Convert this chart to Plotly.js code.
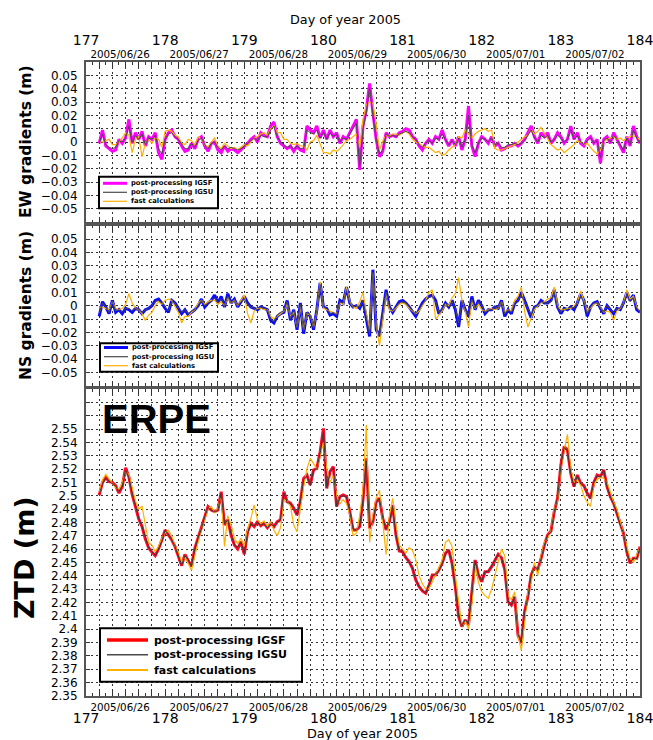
<!DOCTYPE html>
<html>
<head>
<meta charset="utf-8">
<script src="https://cdn.plot.ly/plotly-3.0.1.min.js"></script>
<style>html,body{margin:0;padding:0;background:#fff;}#chart{width:653px;height:740px;}</style>
</head>
<body>
<div id="chart"></div>
<script>
// ---------------- DATA (hourly samples, day-of-year 2005) ----------------
const START_DAY = 177 + 4/24;     // first sample
const STEP_DAY = 1/24;            // hourly sampling

const EW_IGSF = [-0.001,0.009,-0.003,-0.005,-0.007,-0.006,0.002,-0.001,0.003,0.017,
-0.001,0.007,0.002,0.008,-0.003,0.004,0.002,0.007,-0.008,-0.013,
0.002,0.007,0.009,0.004,0.002,-0.003,-0.007,-0.006,-0.001,-0.005,
0.002,0.004,-0.003,-0.007,-0.001,0.000,-0.006,-0.008,-0.003,-0.007,
-0.005,-0.006,-0.008,-0.006,-0.003,-0.001,0.002,0.004,0.000,0.007,
0.005,0.004,0.012,0.015,0.004,-0.001,-0.003,-0.005,-0.003,-0.007,
-0.003,-0.006,-0.007,0.012,0.009,0.007,0.012,0.003,0.009,0.002,
0.009,0.004,0.007,-0.001,0.004,0.002,0.007,0.012,0.017,-0.021,
0.012,0.024,0.044,0.022,0.002,-0.011,-0.007,0.007,0.004,0.005,
0.004,0.007,0.008,0.010,0.009,0.004,0.002,-0.003,-0.006,-0.001,
0.002,-0.001,0.004,0.002,0.009,0.002,-0.003,0.002,-0.003,0.004,
-0.006,0.002,0.027,-0.003,-0.011,-0.001,0.004,0.002,-0.001,0.004,
-0.003,-0.001,-0.006,-0.005,-0.003,-0.003,-0.001,-0.003,-0.001,0.002,
0.007,0.012,0.004,-0.001,0.007,0.004,0.007,-0.001,0.002,0.007,
0.004,-0.001,0.002,0.012,0.002,0.007,-0.001,-0.003,0.002,0.004,
-0.001,0.002,-0.016,0.002,0.004,-0.001,0.007,0.002,-0.003,-0.008,
0.004,-0.003,0.012,0.004,-0.001];

const EW_IGSU = [-0.001,0.006,-0.002,-0.004,-0.005,-0.004,0.001,0.000,0.003,0.012,
0.000,0.005,0.002,0.006,-0.002,0.003,0.002,0.005,-0.005,-0.009,
0.002,0.006,0.007,0.004,0.002,-0.002,-0.005,-0.005,-0.001,-0.004,
0.001,0.003,-0.002,-0.005,-0.001,0.000,-0.004,-0.006,-0.003,-0.005,
-0.004,-0.005,-0.006,-0.005,-0.003,-0.001,0.001,0.003,0.001,0.005,
0.004,0.004,0.009,0.012,0.004,0.000,-0.002,-0.004,-0.003,-0.005,
-0.003,-0.005,-0.005,0.009,0.007,0.006,0.009,0.003,0.007,0.002,
0.007,0.004,0.006,0.000,0.003,0.002,0.006,0.010,0.014,-0.019,
0.010,0.022,0.041,0.020,0.002,-0.009,-0.006,0.006,0.004,0.005,
0.004,0.006,0.007,0.008,0.007,0.004,0.002,-0.002,-0.004,-0.001,
0.001,-0.001,0.003,0.002,0.006,0.002,-0.002,0.001,-0.002,0.003,
-0.004,0.002,0.020,-0.002,-0.008,-0.001,0.003,0.002,0.000,0.003,
-0.002,-0.001,-0.004,-0.004,-0.002,-0.002,-0.001,-0.002,-0.001,0.001,
0.005,0.009,0.003,0.000,0.005,0.003,0.005,0.000,0.002,0.005,
0.003,0.000,0.002,0.009,0.002,0.005,0.000,-0.002,0.001,0.003,
-0.001,0.001,-0.012,0.001,0.003,0.000,0.005,0.002,-0.002,-0.006,
0.003,-0.002,0.009,0.003,-0.001];

const EW_FAST = [0.000,0.000,0.001,0.002,-0.002,-0.002,0.000,0.003,0.007,0.005,
-0.008,0.002,0.004,-0.011,-0.001,0.002,-0.001,0.003,0.002,-0.004,
0.008,0.009,0.008,0.005,0.004,-0.001,-0.002,0.002,0.001,-0.002,
0.004,0.002,-0.002,-0.004,0.000,0.003,-0.003,-0.005,-0.001,-0.003,
-0.005,-0.004,-0.006,-0.004,-0.002,-0.003,0.000,0.003,0.004,0.006,
0.007,0.005,0.010,0.012,0.007,0.007,0.002,0.002,-0.001,-0.002,
-0.001,-0.003,-0.003,-0.006,0.000,0.001,0.005,-0.002,-0.008,-0.008,
-0.009,-0.006,-0.007,-0.005,-0.002,0.001,0.002,0.004,0.006,-0.004,
0.017,0.028,0.030,0.029,0.014,-0.006,0.001,0.005,0.004,0.006,
0.006,0.005,0.007,0.008,0.006,0.002,0.000,-0.001,-0.003,-0.004,
-0.004,-0.006,-0.008,-0.007,-0.010,-0.009,-0.006,-0.004,-0.002,0.004,
0.003,0.009,0.006,0.003,0.006,0.008,0.009,0.010,0.008,0.009,
-0.005,-0.006,-0.006,-0.005,-0.004,-0.003,-0.002,0.000,0.002,0.004,
0.005,0.009,0.006,0.008,0.011,0.007,0.002,-0.002,-0.004,-0.006,
-0.005,-0.008,-0.006,-0.004,-0.002,0.001,0.000,-0.002,-0.001,-0.004,
-0.007,-0.009,-0.006,0.000,0.002,0.003,0.004,0.002,0.003,0.001,
0.003,0.004,0.005,0.003,0.002];

const NS_IGSF = [-0.008,0.003,-0.001,-0.006,0.004,-0.005,-0.003,-0.006,-0.002,-0.003,
-0.005,-0.002,-0.003,-0.006,-0.003,-0.002,0.000,0.004,0.005,0.002,
-0.002,-0.005,0.004,0.002,-0.002,-0.006,-0.003,-0.007,-0.005,-0.003,
0.000,0.005,-0.001,0.002,0.004,0.008,0.002,0.007,-0.001,0.009,
0.002,0.005,-0.001,0.003,0.007,0.002,-0.001,-0.002,-0.003,-0.001,
-0.002,-0.003,-0.011,-0.013,-0.008,-0.006,-0.005,0.004,-0.011,-0.003,
-0.018,0.002,-0.021,-0.005,-0.008,-0.018,-0.003,0.017,-0.001,-0.002,
-0.007,-0.006,-0.008,0.004,0.002,0.014,0.002,-0.001,0.000,-0.002,
0.004,-0.011,-0.023,0.027,-0.018,-0.023,-0.006,0.012,-0.001,-0.005,
-0.001,0.003,0.004,0.002,-0.001,-0.005,-0.008,-0.003,0.002,0.005,
0.007,0.008,0.004,-0.006,-0.003,0.002,-0.001,0.004,-0.003,-0.016,
0.004,-0.003,-0.008,0.007,-0.003,0.004,0.000,-0.006,-0.003,-0.003,
-0.001,-0.002,0.004,-0.008,-0.003,-0.006,0.002,0.004,0.010,0.004,
-0.003,-0.009,-0.001,0.000,0.004,0.002,0.002,0.004,0.012,-0.001,
-0.006,-0.002,-0.003,-0.001,-0.003,0.002,0.009,0.004,-0.008,-0.001,
0.002,0.003,-0.002,-0.006,0.000,-0.003,-0.006,-0.002,-0.003,0.002,
0.010,0.004,0.008,-0.003,-0.005];

const NS_IGSU = [-0.006,0.002,-0.001,-0.005,0.003,-0.004,-0.003,-0.005,-0.002,-0.002,
-0.004,-0.002,-0.003,-0.005,-0.003,-0.002,0.000,0.003,0.004,0.002,
-0.001,-0.004,0.003,0.002,-0.002,-0.005,-0.003,-0.006,-0.004,-0.003,
0.000,0.004,0.000,0.002,0.003,0.006,0.002,0.005,0.000,0.007,
0.002,0.004,0.000,0.003,0.005,0.001,-0.001,-0.002,-0.003,-0.001,
-0.002,-0.003,-0.010,-0.012,-0.007,-0.005,-0.004,0.003,-0.010,-0.003,
-0.016,0.001,-0.019,-0.005,-0.007,-0.016,-0.003,0.016,-0.001,-0.002,
-0.006,-0.005,-0.007,0.003,0.002,0.012,0.002,-0.001,0.000,-0.001,
0.004,-0.010,-0.021,0.025,-0.017,-0.022,-0.006,0.010,-0.001,-0.004,
-0.001,0.002,0.003,0.002,-0.001,-0.004,-0.006,-0.003,0.001,0.004,
0.006,0.007,0.003,-0.005,-0.003,0.002,-0.001,0.003,-0.002,-0.013,
0.003,-0.003,-0.007,0.005,-0.002,0.003,0.000,-0.005,-0.003,-0.003,
-0.001,-0.002,0.003,-0.006,-0.003,-0.005,0.002,0.004,0.008,0.003,
-0.003,-0.007,-0.001,0.000,0.003,0.002,0.002,0.003,0.010,-0.001,
-0.005,-0.002,-0.003,-0.001,-0.002,0.002,0.007,0.003,-0.006,-0.001,
0.002,0.002,-0.002,-0.005,0.000,-0.003,-0.005,-0.002,-0.002,0.002,
0.008,0.003,0.006,-0.002,-0.004];

const NS_FAST = [-0.001,-0.001,-0.002,-0.003,0.003,-0.002,-0.003,-0.002,0.001,0.009,
0.002,-0.002,-0.003,-0.006,-0.011,-0.007,-0.005,0.000,0.003,0.001,
0.004,0.005,0.004,0.000,-0.005,-0.013,-0.008,-0.008,-0.005,-0.003,
0.002,0.004,0.001,0.003,0.004,0.004,0.001,0.003,0.000,0.006,
0.002,0.004,0.000,0.004,0.008,-0.006,-0.013,-0.004,-0.002,-0.002,
-0.003,-0.003,-0.008,-0.010,-0.008,-0.006,-0.004,0.001,-0.008,-0.005,
-0.016,-0.001,-0.018,-0.006,-0.007,-0.016,-0.004,0.018,-0.002,-0.003,
-0.004,-0.005,-0.006,0.002,0.001,0.014,0.003,-0.001,-0.002,0.003,
0.010,-0.006,-0.018,0.024,-0.015,-0.030,-0.012,0.009,-0.003,-0.004,
-0.002,0.001,0.002,0.001,-0.002,-0.004,-0.006,-0.004,0.000,0.004,
0.010,0.012,-0.010,-0.007,-0.004,0.001,0.000,0.006,0.009,0.021,
0.004,-0.004,-0.016,0.003,-0.002,0.001,-0.003,-0.004,-0.003,-0.002,
-0.003,-0.002,0.003,-0.005,-0.003,-0.004,0.004,0.007,0.014,-0.004,
-0.016,-0.010,-0.003,0.000,0.002,0.003,0.005,0.006,0.014,0.000,
-0.003,-0.003,-0.002,-0.002,0.000,0.002,0.011,0.004,-0.004,-0.002,
0.001,0.002,-0.001,-0.005,-0.004,-0.005,-0.011,-0.004,-0.002,0.002,
0.012,0.005,0.007,-0.001,-0.004];

const ZTD_IGSF = [2.5005,2.510,2.5137,2.5105,2.510,2.5075,2.502,2.5067,2.521,2.5143,
2.501,2.4918,2.4825,2.4768,2.4675,2.461,2.4575,2.455,2.460,2.4668,
2.4743,2.4705,2.4668,2.4618,2.455,2.4475,2.456,2.4518,2.4468,2.4605,
2.4685,2.4755,2.4843,2.4918,2.4893,2.488,2.4893,2.503,2.478,2.482,
2.4705,2.463,2.460,2.4655,2.456,2.473,2.4793,2.4768,2.4805,2.4775,
2.4793,2.476,2.4793,2.4768,2.4805,2.4818,2.503,2.4955,2.4943,2.4905,
2.4855,2.4955,2.513,2.5155,2.508,2.5193,2.5205,2.533,2.5505,2.5055,
2.518,2.5218,2.4918,2.4993,2.5005,2.4993,2.488,2.4743,2.4743,2.4768,
2.497,2.528,2.4755,2.4805,2.4955,2.498,2.483,2.4743,2.4805,2.493,
2.4705,2.4585,2.458,2.4535,2.4505,2.4455,2.4368,2.4318,2.4285,2.4268,
2.4325,2.4405,2.4405,2.4443,2.4493,2.4568,2.4593,2.4493,2.4318,2.4093,
2.4018,2.4068,2.403,2.4255,2.4518,2.4405,2.4355,2.443,2.443,2.4468,
2.4518,2.456,2.4535,2.4443,2.4205,2.418,2.4243,2.3955,2.3893,2.413,
2.4243,2.4405,2.4468,2.4443,2.453,2.463,2.4705,2.4735,2.488,2.498,
2.523,2.5368,2.5343,2.5168,2.5068,2.5155,2.5093,2.5075,2.5018,2.498,
2.510,2.5155,2.5143,2.5193,2.5068,2.4993,2.4943,2.4868,2.478,2.4718,
2.458,2.4493,2.453,2.453,2.4618];

const ZTD_IGSU = [2.501,2.509,2.513,2.511,2.509,2.507,2.503,2.507,2.519,2.514,
2.502,2.492,2.483,2.477,2.468,2.461,2.458,2.455,2.460,2.466,
2.474,2.471,2.467,2.462,2.455,2.448,2.455,2.452,2.447,2.460,
2.468,2.475,2.484,2.491,2.489,2.488,2.489,2.502,2.479,2.482,
2.471,2.463,2.461,2.465,2.457,2.472,2.479,2.477,2.480,2.478,
2.479,2.476,2.479,2.477,2.480,2.482,2.502,2.495,2.494,2.491,
2.486,2.495,2.512,2.515,2.508,2.519,2.520,2.532,2.548,2.506,
2.518,2.521,2.492,2.499,2.500,2.499,2.488,2.475,2.474,2.477,
2.497,2.526,2.476,2.481,2.495,2.498,2.483,2.475,2.480,2.492,
2.471,2.459,2.458,2.454,2.451,2.446,2.437,2.432,2.429,2.427,
2.433,2.440,2.441,2.444,2.449,2.456,2.459,2.450,2.432,2.410,
2.402,2.407,2.404,2.425,2.451,2.441,2.436,2.443,2.443,2.447,
2.451,2.456,2.453,2.445,2.421,2.418,2.424,2.396,2.390,2.412,
2.424,2.440,2.447,2.444,2.453,2.463,2.470,2.473,2.488,2.498,
2.522,2.536,2.534,2.517,2.507,2.515,2.509,2.507,2.502,2.498,
2.510,2.515,2.514,2.519,2.507,2.499,2.494,2.487,2.478,2.472,
2.458,2.450,2.453,2.453,2.461];

const ZTD_FAST = [2.502,2.512,2.516,2.512,2.509,2.506,2.505,2.510,2.518,2.516,
2.507,2.496,2.490,2.492,2.478,2.465,2.463,2.458,2.462,2.468,
2.472,2.474,2.470,2.462,2.458,2.450,2.454,2.449,2.444,2.455,
2.466,2.475,2.482,2.490,2.492,2.487,2.491,2.500,2.462,2.485,
2.478,2.468,2.464,2.468,2.462,2.475,2.483,2.493,2.482,2.479,
2.481,2.477,2.480,2.474,2.470,2.476,2.497,2.496,2.492,2.478,
2.473,2.490,2.507,2.520,2.528,2.524,2.520,2.530,2.540,2.520,
2.510,2.515,2.500,2.494,2.497,2.494,2.486,2.470,2.472,2.485,
2.505,2.553,2.465,2.485,2.498,2.504,2.478,2.456,2.485,2.498,
2.478,2.463,2.460,2.457,2.461,2.459,2.452,2.440,2.434,2.430,
2.430,2.435,2.440,2.446,2.452,2.465,2.467,2.462,2.440,2.420,
2.402,2.406,2.400,2.418,2.448,2.435,2.428,2.425,2.423,2.430,
2.440,2.452,2.460,2.455,2.425,2.422,2.428,2.395,2.384,2.405,
2.428,2.435,2.450,2.440,2.455,2.465,2.468,2.474,2.490,2.496,
2.520,2.534,2.546,2.520,2.510,2.512,2.508,2.500,2.495,2.492,
2.508,2.512,2.514,2.513,2.510,2.503,2.495,2.490,2.481,2.473,
2.462,2.453,2.450,2.455,2.461];

// tick labels
const DAY_TICKS = [177,178,179,180,181,182,183,184];
const DATE_DAYS = [177,178,179,180,181,182,183];
const DATE_LABELS = ['2005/06/26','2005/06/27','2005/06/28','2005/06/29','2005/06/30','2005/07/01','2005/07/02'];
const GRAD_TICKS = [-0.05,-0.04,-0.03,-0.02,-0.01,0,0.01,0.02,0.03,0.04,0.05];
const GRAD_LABELS = ['\u22120.05','\u22120.04','\u22120.03','\u22120.02','\u22120.01','0','0.01','0.02','0.03','0.04','0.05'];
const ZTD_TICKS = [2.35,2.36,2.37,2.38,2.39,2.40,2.41,2.42,2.43,2.44,2.45,2.46,2.47,2.48,2.49,2.50,2.51,2.52,2.53,2.54,2.55,2.56,2.57];
const ZTD_LABELS = ['2.35','2.36','2.37','2.38','2.39','2.4','2.41','2.42','2.43','2.44','2.45','2.46','2.47','2.48','2.49','2.5','2.51','2.52','2.53','2.54','2.55','',''];
const SERIES_NAMES = ['post-processing IGSF','post-processing IGSU','fast calculations'];

// ---------------- BUILD ----------------
const time = ZTD_IGSF.map((_, i) => START_DAY + i * STEP_DAY);
const W = 653, H = 740, ML = 86, MR = 13;
const PW = W - ML - MR;
const px = p => (p - ML) / PW;
const py = p => 1 - p / H;

const C_GRAY = '#4a4a4a', C_ORANGE = '#ffb000';
function series(y, xa, ya, color, width) {
  return {x: time, y: y, xaxis: xa, yaxis: ya, type: 'scatter', mode: 'lines',
          line: {color: color, width: width}, showlegend: false, hoverinfo: 'skip'};
}
const traces = [
  series(EW_IGSF, 'x', 'y', '#ff00ff', 3), series(EW_FAST, 'x', 'y', C_ORANGE, 1.2), series(EW_IGSU, 'x', 'y', C_GRAY, 1),
  series(NS_IGSF, 'x2', 'y2', '#0a0aff', 3), series(NS_FAST, 'x2', 'y2', C_ORANGE, 1.2), series(NS_IGSU, 'x2', 'y2', C_GRAY, 1),
  series(ZTD_IGSF, 'x3', 'y3', '#ff0a2a', 3), series(ZTD_FAST, 'x3', 'y3', C_ORANGE, 1.2), series(ZTD_IGSU, 'x3', 'y3', '#3a3a3a', 1)
];
// empty carriers so that the label-only axes are instantiated (they draw nothing)
['x4', 'x5'].forEach(a => traces.push({x: [], y: [], xaxis: a, yaxis: 'y', type: 'scatter', mode: 'lines', showlegend: false, hoverinfo: 'skip'}));
['x6', 'x7'].forEach(a => traces.push({x: [], y: [], xaxis: a, yaxis: 'y3', type: 'scatter', mode: 'lines', showlegend: false, hoverinfo: 'skip'}));

const GRID = {showgrid: true, gridcolor: '#333', gridwidth: 1, griddash: '2px,3px'};
const FRAME = {showline: true, linecolor: '#555', linewidth: 2, zeroline: false};
function panelX(anchor) {
  return Object.assign({}, GRID, FRAME, {
    anchor: anchor, domain: [0, 1], range: [177, 184], tickmode: 'linear', tick0: 177, dtick: 1/6,
    ticks: 'inside', ticklen: 5, tickcolor: '#333', tickwidth: 1, mirror: 'allticks', showticklabels: false,
    minor: {dtick: 1/12, tick0: 177, ticks: 'inside', ticklen: 2.5, tickcolor: '#333', showgrid: false}
  });
}
function panelY(anchor, domain, range, vals, text) {
  return Object.assign({}, GRID, FRAME, {
    anchor: anchor, domain: domain, range: range, tickmode: 'array', tickvals: vals, ticktext: text,
    ticks: 'inside', ticklen: 4, tickcolor: '#333', mirror: true,
    tickfont: {family: 'DejaVu Sans', size: 12, color: '#000'}, ticklabelstandoff: 4
  });
}
function labelX(over, side, pos, vals, text, size) {
  return {overlaying: over, anchor: 'free', side: side, position: pos, range: [176.999, 184.001], domain: [0, 1],
    tickmode: 'array', tickvals: vals, ticktext: text, ticks: '', showline: false, showgrid: false, zeroline: false,
    ticklabeloverflow: 'allow', tickfont: {family: 'DejaVu Sans', size: size, color: '#000'}};
}
const DATE_POS = DATE_DAYS.map(d => d + 0.43);

const layout = {
  width: W, height: H, margin: {l: ML, r: MR, t: 0, b: 0, pad: 0},
  paper_bgcolor: '#fff', plot_bgcolor: '#fff', showlegend: false,
  font: {family: 'DejaVu Sans', color: '#000'},
  xaxis: panelX('y'), xaxis2: panelX('y2'), xaxis3: panelX('y3'),
  xaxis4: labelX('x', 'top', py(48), DAY_TICKS, DAY_TICKS.map(String), 14),
  xaxis5: labelX('x', 'top', py(60), DATE_POS, DATE_LABELS, 10.3),
  xaxis6: labelX('x3', 'bottom', py(700), DATE_POS, DATE_LABELS, 10.3),
  xaxis7: labelX('x3', 'bottom', py(708), DAY_TICKS, DAY_TICKS.map(String), 14),
  yaxis: panelY('x', [py(222), py(62)], [-0.06, 0.06], GRAD_TICKS, GRAD_LABELS),
  yaxis2: panelY('x2', [py(385.7), py(225.7)], [-0.06, 0.06], GRAD_TICKS, GRAD_LABELS),
  yaxis3: panelY('x3', [py(695.7), py(389)], [2.35, 2.58], ZTD_TICKS, ZTD_LABELS),
  shapes: [], annotations: []
};

function ann(text, x, y, size, opts) {
  return Object.assign({xref: 'paper', yref: 'paper', x: px(x), y: py(y), text: text, showarrow: false,
    xanchor: 'center', yanchor: 'middle', font: {family: 'DejaVu Sans', size: size, color: '#000'}}, opts || {});
}
layout.annotations.push(ann('Day of year 2005', 345, 19.5, 12.8));
layout.annotations.push(ann('Day of year 2005', 362.5, 733.5, 12.8));
layout.annotations.push(ann('<b>EW gradients (m)</b>', 26, 142, 15.5, {textangle: -90}));
layout.annotations.push(ann('<b>NS gradients (m)</b>', 26, 306, 15.5, {textangle: -90}));
layout.annotations.push(ann('<b>ZTD (m)</b>', 24, 558, 27, {textangle: -90}));
layout.annotations.push(ann('<b>ERPE</b>', 100, 419, 40, {xanchor: 'left', font: {family: 'Liberation Sans', size: 40, color: '#000'}}));

function legendBox(x0, x1, y0, y1, rows, lx0, lx1, tx, fsize, colors, widths) {
  layout.shapes.push({type: 'rect', xref: 'paper', yref: 'paper', x0: px(x0), x1: px(x1), y0: py(y1), y1: py(y0),
    fillcolor: '#fff', line: {color: '#000', width: 2}, layer: 'above'});
  rows.forEach((ry, i) => {
    layout.shapes.push({type: 'line', xref: 'paper', yref: 'paper', x0: px(lx0), x1: px(lx1), y0: py(ry), y1: py(ry),
      line: {color: colors[i], width: widths[i]}, layer: 'above'});
    layout.annotations.push(ann('<b>' + SERIES_NAMES[i] + '</b>', tx, ry, fsize, {xanchor: 'left'}));
  });
}
legendBox(99, 218, 176.7, 208.3, [183.3, 192.3, 201.3], 103, 127, 129, 6.8, ['#ff00ff', C_GRAY, C_ORANGE], [3, 1.2, 1.2]);
legendBox(100, 218, 343.3, 371.7, [347.5, 356.7, 365.7], 104, 128, 130, 6.8, ['#0a0aff', C_GRAY, C_ORANGE], [3, 1.2, 1.2]);
legendBox(100, 302, 628.3, 681.7, [640, 654.7, 670], 107, 148, 152, 11, ['#ff0000', C_GRAY, C_ORANGE], [3.5, 1.5, 2]);

Plotly.newPlot('chart', traces, layout, {displayModeBar: false, staticPlot: true});
</script>
</body>
</html>
